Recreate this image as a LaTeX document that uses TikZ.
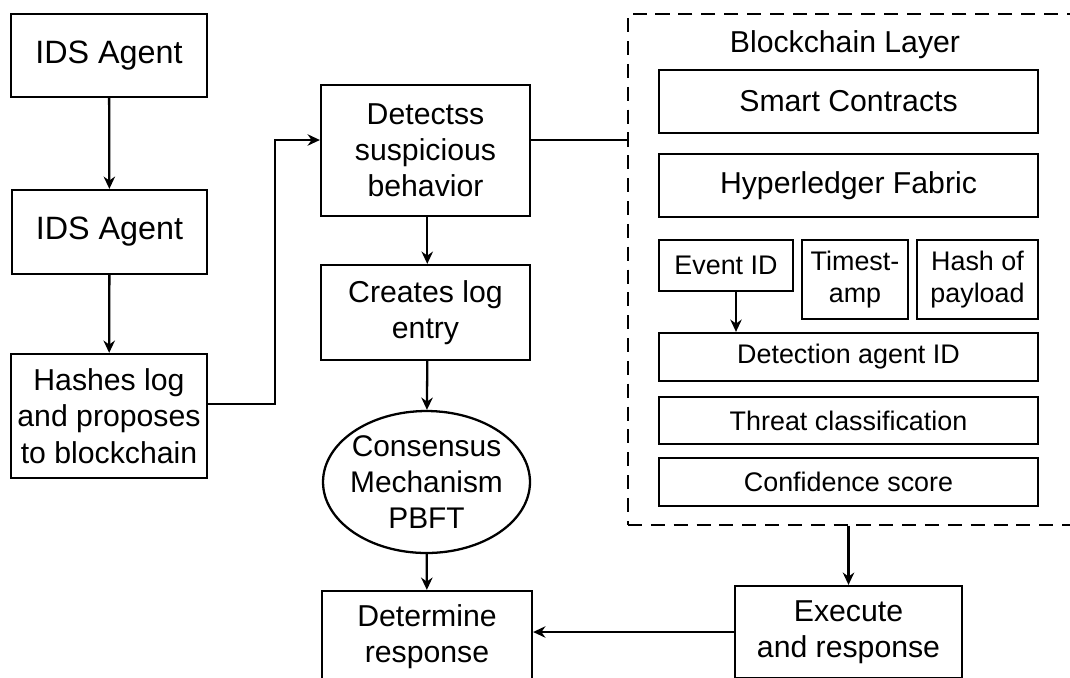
\documentclass[tikz,border=0pt]{standalone}
\usepackage{fontspec}
\setmainfont{Liberation Sans}
\usetikzlibrary{shapes.geometric, arrows, arrows.meta, positioning}
\tikzstyle{process} = [rectangle, minimum width=4.18cm, minimum height=1.66cm, text centered, align=center, draw=black, line width=1.3pt, inner sep=2pt, font=\fontsize{17.2}{20.6}\selectfont]
\tikzstyle{consent} = [ellipse, minimum width=4.14cm, minimum height=2.84cm, inner xsep=-4pt, inner ysep=-2pt, text centered, align=center, draw=black, line width=1.3pt, font=\fontsize{17}{20.4}\selectfont]
\tikzstyle{field} = [rectangle, minimum width=7.58cm, minimum height=0.96cm, text centered, align=center, draw=black, line width=1.3pt, inner sep=1pt, font=\fontsize{15.3}{18}\selectfont]
\tikzstyle{arrow} = [line width=1.3pt,-{Stealth[length=7pt,width=6.5pt]}]

\begin{document}
\begin{tikzpicture}[x=0.02cm, y=-0.02cm]
\clip (0,0) rectangle (1070,677);

\node (idsA) [process, minimum width=3.92cm, font=\fontsize{18.4}{22}\selectfont] at (109,55.5) {IDS Agent};
\node (idsB) [process, minimum width=3.9cm, minimum height=1.68cm, font=\fontsize{18.4}{22}\selectfont] at (109.5,232) {IDS Agent};
\node (hashes) [process, minimum width=3.92cm, minimum height=2.48cm] at (109,416) {Hashes log\\and proposes\\to blockchain};
\node (detect) [process, minimum height=2.62cm] at (425.5,150.5) {Detectss\\suspicious\\behavior};
\node (logentry) [process, minimum height=1.9cm] at (425.5,312.5) {Creates log\\entry};
\node (consensus) [consent] at (426.5,482) {Consensus\\Mechanism\\PBFT};
\node (determine) [process, minimum width=4.2cm, minimum height=1.84cm] at (427,637) {Determine\\response};
\node (execute) [process, minimum width=4.54cm, minimum height=1.84cm] at (848.5,632) {Execute\\and response};

% blockchain layer
\node (layer) [rectangle, draw=black, line width=1.3pt, dash pattern=on 8pt off 5pt, minimum width=9.24cm, minimum height=10.22cm] at (859,269.5) {};
\node (title) [font=\fontsize{17.2}{20.6}\selectfont] at (845,45) {Blockchain Layer};
\node (smart) [field, minimum height=1.26cm, font=\fontsize{17.2}{20.6}\selectfont] at (848.5,101.5) {Smart Contracts};
\node (fabric) [field, minimum height=1.26cm, font=\fontsize{17.2}{20.6}\selectfont] at (848.5,185.5) {Hyperledger Fabric};
\node (eventid) [field, minimum width=2.68cm, minimum height=1.02cm] at (726,265.5) {Event ID};
\node (stamp) [field, minimum width=2.12cm, minimum height=1.58cm] at (855,279.5) {Timest-\\amp};
\node (hashpay) [field, minimum width=2.42cm, minimum height=1.58cm] at (977.5,279.5) {Hash of\\payload};
\node (agentid) [field] at (848.5,357) {Detection agent ID};
\node (threat) [field, minimum height=0.94cm] at (848.5,420.5) {Threat classification};
\node (conf) [field] at (848.5,482) {Confidence score};

\coordinate (knee) at (275,140);

\draw [arrow] (idsA) -- (idsB);
\draw [arrow] (idsB) -- (hashes);
\draw [arrow] ([yshift=7pt]hashes.east) -| (knee) -- (knee -| detect.west);
\draw [arrow] ([xshift=1pt]detect.south) -- ([xshift=1pt]logentry.north);
\draw [arrow] ([xshift=1pt]logentry.south) -- (consensus);
\draw [arrow] (consensus) -- (determine);
\draw [line width=1.3pt] (knee -| detect.east) -- (knee -| layer.west);
\draw [arrow] ([xshift=0.2cm]eventid.south) -- ([xshift=0.2cm]eventid.south |- agentid.north);
\draw [arrow] (layer.south -| execute.north) -- (execute);
\draw [arrow] (execute.west) -- (execute.west -| determine.east);
\end{tikzpicture}
\end{document}
